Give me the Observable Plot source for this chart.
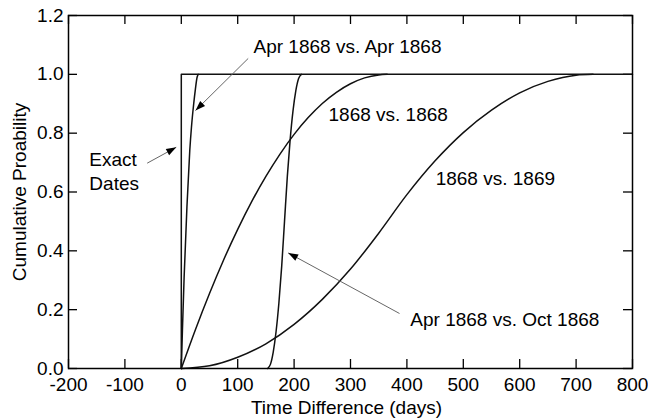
<!DOCTYPE html>
<html>
<head>
<meta charset="utf-8">
<script src="https://cdn.jsdelivr.net/npm/d3@7"></script>
<script src="https://cdn.jsdelivr.net/npm/@observablehq/plot@0.6"></script>
<style>
  html, body { margin: 0; padding: 0; background: white; }
</style>
</head>
<body>
<div id="chart"></div>
<script>
// ---- Data ----
const xTicks = [-200, -100, 0, 100, 200, 300, 400, 500, 600, 700, 800];
const yTicks = [0, 0.2, 0.4, 0.6, 0.8, 1.0, 1.2];

const exactX = [0, 0, 800];
const exactY = [0, 1, 1];

const aprAprX = [0, 2, 5, 10, 15, 18, 22, 25, 28, 30];
const aprAprY = [0, 0.13, 0.31, 0.55, 0.74, 0.82, 0.9, 0.95, 0.99, 1];

const y68y68X = [0, 25, 50, 75, 100, 125, 150, 175, 200, 225, 250, 275, 300, 325, 350, 365];
const y68y68Y = [0, 0.132, 0.255, 0.369, 0.473, 0.568, 0.653, 0.729, 0.796, 0.853, 0.901, 0.939, 0.968, 0.988, 0.998, 1];

const y68y69X = [0, 50, 100, 150, 200, 250, 300, 350, 400, 450, 500, 550, 600, 650, 700, 730];
const y68y69Y = [0, 0.009, 0.038, 0.084, 0.15, 0.235, 0.338, 0.46, 0.591, 0.706, 0.802, 0.878, 0.937, 0.976, 0.997, 1];

const aprOctX = [153, 158, 163, 168, 173, 178, 183, 188, 193, 198, 203, 208, 213];
const aprOctY = [0, 0.014, 0.056, 0.125, 0.222, 0.347, 0.5, 0.653, 0.778, 0.875, 0.944, 0.986, 1];

const labelText = ["Apr 1868 vs. Apr 1868", "1868 vs. 1868", "1868 vs. 1869", "Apr 1868 vs. Oct 1868", "Exact\nDates"];
const labelX = [128, 261, 451, 406, -163];
const labelY = [1.098, 0.867, 0.649, 0.17, 0.674];

const arrowX1 = [118.6, -60.5, 386.9];
const arrowY1 = [1.054, 0.698, 0.187];
const arrowX2 = [25.2, -9.0, 189.5];
const arrowY2 = [0.877, 0.752, 0.393];

const xTitle = "Time Difference (days)";
const yTitle = "Cumulative Proability";

// ---- Build tables ----
const series = (xs, ys) => xs.map((x, i) => ({x, y: ys[i]}));
const labels = labelText.map((t, i) => ({t, x: labelX[i], y: labelY[i]}));
const arrows = arrowX1.map((x1, i) => ({x1, y1: arrowY1[i], x2: arrowX2[i], y2: arrowY2[i]}));

const W = 648, H = 419;
const mL = 68, mR = 16, mT = 15, mB = 51;
const innerW = W - mL - mR, innerH = H - mT - mB;
const tick = 9;
const FONT = "Liberation Sans, Arial, Helvetica, sans-serif";

const lineOpts = {x: "x", y: "y", stroke: "#111", strokeWidth: 1.5, curve: "monotone-x"};

const plot = Plot.plot({
  width: W,
  height: H,
  marginLeft: mL,
  marginRight: mR,
  marginTop: mT,
  marginBottom: mB,
  style: {fontFamily: FONT, fontSize: "19px", background: "white", color: "black"},
  x: {domain: [-200, 800]},
  y: {domain: [0, 1.2]},
  marks: [
    Plot.axisX({ticks: xTicks, tickSize: 0, tickPadding: 9, tickFormat: d => String(d), label: null, fontSize: 19}),
    Plot.axisY({ticks: yTicks, tickSize: 0, tickPadding: 5, tickFormat: d3.format(".1f"), label: null, fontSize: 19}),
    // inward ticks on all four sides
    Plot.ruleX(xTicks, {insetTop: innerH - tick, stroke: "black", strokeWidth: 1.3}),
    Plot.ruleX(xTicks, {insetBottom: innerH - tick, stroke: "black", strokeWidth: 1.3}),
    Plot.ruleY(yTicks, {insetRight: innerW - tick, stroke: "black", strokeWidth: 1.3}),
    Plot.ruleY(yTicks, {insetLeft: innerW - tick, stroke: "black", strokeWidth: 1.3}),
    // curves
    Plot.line(series(exactX, exactY), {x: "x", y: "y", stroke: "#111", strokeWidth: 1.5}),
    Plot.line(series(aprAprX, aprAprY), lineOpts),
    Plot.line(series(y68y68X, y68y68Y), lineOpts),
    Plot.line(series(y68y69X, y68y69Y), lineOpts),
    Plot.line(series(aprOctX, aprOctY), lineOpts),
    // annotation arrows
    Plot.link(arrows, {x1: "x1", y1: "y1", x2: "x2", y2: "y2", stroke: "#666", strokeWidth: 1, markerEnd: "arrow"}),
    // annotation labels
    Plot.text(labels, {x: "x", y: "y", text: "t", textAnchor: "start", fontSize: 19, lineHeight: 1.26, fill: "black"}),
    // axis titles
    Plot.text([xTitle], {frameAnchor: "bottom", textAnchor: "middle", lineAnchor: "middle", dy: 39, dx: -4, fontSize: 19, fill: "black"}),
    Plot.text([yTitle], {frameAnchor: "left", textAnchor: "middle", lineAnchor: "middle", dx: -49, rotate: -90, fontSize: 19, fill: "black"}),
    Plot.frame({stroke: "black", strokeWidth: 1.5})
  ]
});

// Turn the open chevron markers into filled arrowheads
plot.querySelectorAll("marker").forEach(m => {
  m.setAttribute("viewBox", "-11 -4 12 8");
  m.setAttribute("markerWidth", "12");
  m.setAttribute("markerHeight", "8");
  m.setAttribute("markerUnits", "userSpaceOnUse");
  m.setAttribute("fill", "black");
  m.setAttribute("stroke", "none");
  m.querySelectorAll("path").forEach(p => p.setAttribute("d", "M-10,-3.5L0,0L-10,3.5Z"));
});

document.getElementById("chart").appendChild(plot);
</script>
</body>
</html>
